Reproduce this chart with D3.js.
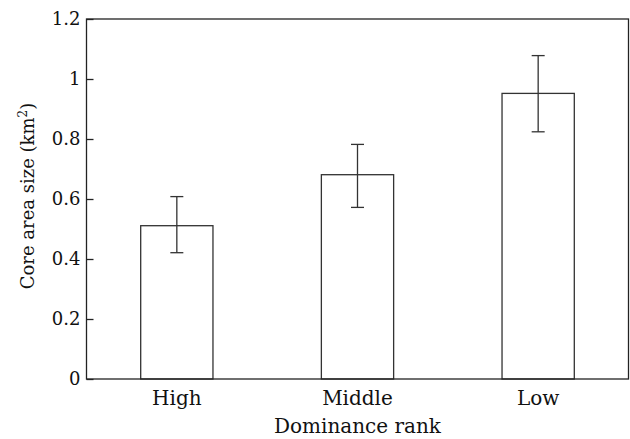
<!DOCTYPE html>
<html>
<head>
<meta charset="utf-8">
<script src="https://cdn.jsdelivr.net/npm/d3@7"></script>
<style>
body { margin: 0; background: #fff; }
text { font-family: "DejaVu Serif", serif; fill: #111; }
</style>
</head>
<body>
<div id="chart"></div>
<script>
var categories = ["High", "Middle", "Low"];
var means = [0.511, 0.681, 0.952];
var errLow = [0.421, 0.572, 0.824];
var errHigh = [0.608, 0.782, 1.078];
var yTicks = [0, 0.2, 0.4, 0.6, 0.8, 1, 1.2];

var W = 630, H = 439;
var m = {left: 86.5, right: 1.5, top: 19, bottom: 60};

var svg = d3.select("#chart").append("svg")
	.attr("width", W).attr("height", H);

var x = d3.scaleBand().domain(categories)
	.range([m.left, W - m.right])
	.paddingInner(0.6).paddingOuter(0.3);
var y = d3.scaleLinear().domain([0, 1.2]).range([H - m.bottom, m.top]);

// bars
svg.selectAll(".bar").data(categories).enter().append("rect")
	.attr("class", "bar")
	.attr("x", function(d){ return x(d); })
	.attr("y", function(d, i){ return y(means[i]); })
	.attr("width", x.bandwidth())
	.attr("height", function(d, i){ return y(0) - y(means[i]); })
	.style("fill", "#fff").style("stroke", "#333").style("stroke-width", 1.3);

// error bars
var cap = 6.5;
categories.forEach(function(c, i){
	var cx = x(c) + x.bandwidth() / 2;
	var g = svg.append("g").style("stroke", "#333").style("stroke-width", 1.3);
	g.append("line").attr("x1", cx).attr("x2", cx).attr("y1", y(errLow[i])).attr("y2", y(errHigh[i]));
	g.append("line").attr("x1", cx - cap).attr("x2", cx + cap).attr("y1", y(errLow[i])).attr("y2", y(errLow[i]));
	g.append("line").attr("x1", cx - cap).attr("x2", cx + cap).attr("y1", y(errHigh[i])).attr("y2", y(errHigh[i]));
});

// frame
svg.append("rect")
	.attr("x", m.left).attr("y", m.top)
	.attr("width", W - m.right - m.left).attr("height", H - m.bottom - m.top)
	.style("fill", "none").style("stroke", "#222").style("stroke-width", 1.3);

// y axis, ticks pointing inward
var yAxis = svg.append("g").attr("transform", "translate(" + m.left + ",0)")
	.call(d3.axisRight(y).tickValues(yTicks).tickSize(7).tickFormat(d3.format("")));
yAxis.select(".domain").remove();
yAxis.selectAll("line").style("stroke", "#222").style("stroke-width", 1.3);
yAxis.selectAll("text")
	.attr("x", -6).style("text-anchor", "end")
	.style("font-size", "18px");

// x axis labels
var xAxis = svg.append("g").attr("transform", "translate(0," + (H - m.bottom) + ")")
	.call(d3.axisBottom(x).tickSize(0).tickPadding(12));
xAxis.select(".domain").remove();
xAxis.selectAll("text").style("font-size", "20px");

// axis titles
svg.append("text")
	.attr("x", (m.left + W - m.right) / 2).attr("y", 433)
	.attr("text-anchor", "middle").style("font-size", "20px")
	.text("Dominance rank");

var yt = svg.append("text")
	.attr("transform", "translate(34," + ((m.top + H - m.bottom) / 2 - 3) + ") rotate(-90)")
	.attr("text-anchor", "middle").style("font-size", "18px");
yt.append("tspan").text("Core area size (km");
yt.append("tspan").attr("dy", -7).style("font-size", "12px").text("2");
yt.append("tspan").attr("dy", 7).text(")");
</script>
</body>
</html>
